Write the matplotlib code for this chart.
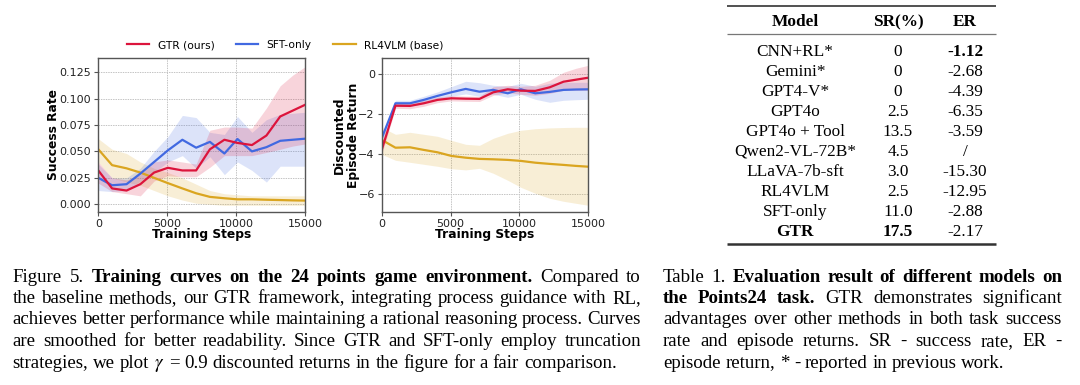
import matplotlib
matplotlib.use("Agg")
import matplotlib.pyplot as plt
import numpy as np

plt.rcParams['mathtext.fontset'] = 'stix'

# ---------------- data ----------------
steps = [0, 1000, 2050, 3050, 4050, 5050, 6100, 7100, 8100, 9150, 10100, 11150, 12200, 13200, 14100, 15000]

gtr_sr = [0.032, 0.015, 0.013, 0.019, 0.030, 0.0345, 0.032, 0.032, 0.052, 0.061, 0.058, 0.056, 0.065, 0.083, 0.0885, 0.094]
gtr_sr_lo = [0.020, 0.012, 0.010, 0.008, 0.022, 0.027, 0.026, 0.026, 0.035, 0.046, 0.046, 0.046, 0.049, 0.052, 0.055, 0.057]
gtr_sr_hi = [0.040, 0.025, 0.023, 0.028, 0.040, 0.042, 0.040, 0.038, 0.070, 0.073, 0.073, 0.072, 0.091, 0.112, 0.122, 0.130]

sft_sr = [0.025, 0.018, 0.019, 0.029, 0.040, 0.051, 0.061, 0.0535, 0.059, 0.048, 0.0617, 0.050, 0.054, 0.060, 0.061, 0.062]
sft_sr_lo = [0.013, 0.012, 0.013, 0.022, 0.030, 0.040, 0.046, 0.034, 0.045, 0.028, 0.040, 0.032, 0.021, 0.036, 0.036, 0.036]
sft_sr_hi = [0.038, 0.025, 0.025, 0.034, 0.050, 0.064, 0.084, 0.082, 0.068, 0.066, 0.083, 0.068, 0.080, 0.085, 0.086, 0.087]

rl_sr = [0.052, 0.037, 0.034, 0.030, 0.025, 0.020, 0.015, 0.0104, 0.007, 0.0057, 0.0047, 0.0047, 0.0043, 0.0040, 0.0037, 0.0035]
rl_sr_lo = [0.040, 0.025, 0.021, 0.018, 0.013, 0.008, 0.004, 0.001, 0.000, -0.001, -0.001, -0.001, -0.001, -0.001, -0.001, -0.001]
rl_sr_hi = [0.062, 0.052, 0.048, 0.040, 0.034, 0.030, 0.025, 0.019, 0.013, 0.010, 0.009, 0.008, 0.008, 0.008, 0.008, 0.008]

gtr_er = [-3.78, -1.57, -1.58, -1.45, -1.28, -1.20, -1.22, -1.23, -0.90, -0.75, -0.82, -0.83, -0.65, -0.37, -0.27, -0.17]
gtr_er_lo = [-4.00, -1.70, -1.72, -1.60, -1.42, -1.33, -1.35, -1.36, -1.05, -0.92, -1.00, -1.05, -0.95, -0.80, -0.80, -0.80]
gtr_er_hi = [-3.55, -1.45, -1.44, -1.30, -1.14, -1.07, -1.09, -1.10, -0.62, -0.55, -0.60, -0.55, -0.30, 0.10, 0.30, 0.45]

sft_er = [-3.20, -1.45, -1.45, -1.28, -1.08, -0.90, -0.73, -0.87, -0.78, -0.95, -0.75, -0.95, -0.88, -0.78, -0.76, -0.75]
sft_er_lo = [-3.40, -1.60, -1.60, -1.45, -1.25, -1.10, -0.98, -1.10, -1.00, -1.15, -1.00, -1.25, -1.40, -1.30, -1.27, -1.25]
sft_er_hi = [-3.00, -1.30, -1.30, -1.10, -0.88, -0.62, -0.35, -0.42, -0.55, -0.60, -0.45, -0.60, -0.45, -0.40, -0.40, -0.40]

rl_er = [-3.28, -3.67, -3.65, -3.78, -3.90, -4.08, -4.17, -4.23, -4.25, -4.28, -4.33, -4.42, -4.48, -4.53, -4.58, -4.62]
rl_er_lo = [-4.00, -4.30, -4.40, -4.50, -4.60, -4.72, -4.78, -4.70, -4.95, -5.30, -5.65, -5.95, -6.20, -6.35, -6.45, -6.55]
rl_er_hi = [-2.65, -3.00, -2.90, -3.00, -3.10, -3.30, -3.50, -3.55, -3.20, -2.95, -2.80, -2.72, -2.68, -2.66, -2.65, -2.65]

series_names = ["GTR (ours)", "SFT-only", "RL4VLM (base)"]
series_colors = ["#DC143C", "#4169E1", "#DAA520"]

x_ticks = [0, 5000, 10000, 15000]
sr_ticks = [0.000, 0.025, 0.050, 0.075, 0.100, 0.125]
er_ticks = [-6, -4, -2, 0]

table_cols = ["Model", "SR(%)", "ER"]
table_models = ["CNN+RL*", "Gemini*", "GPT4-V*", "GPT4o", "GPT4o + Tool", "Qwen2-VL-72B*",
                "LLaVA-7b-sft", "RL4VLM", "SFT-only", "GTR"]
table_sr = ["0", "0", "0", "2.5", "13.5", "4.5", "3.0", "2.5", "11.0", "17.5"]
table_er = ["-1.12", "-2.68", "-4.39", "-6.35", "-3.59", "/", "-15.30", "-12.95", "-2.88", "-2.17"]

# ---------------- figure ----------------
W, H = 1080, 385
fig = plt.figure(figsize=(W / 100, H / 100), dpi=100)

def px_axes(x0, y0, x1, y1):
    return fig.add_axes([x0 / W, 1 - y1 / H, (x1 - x0) / W, (y1 - y0) / H])

ax1 = px_axes(98.3, 58.3, 305, 211.7)
ax2 = px_axes(381.7, 58.3, 588.3, 211.7)

def style(ax):
    for s in ax.spines.values():
        s.set_color("#555555")
        s.set_linewidth(1.0)
    ax.grid(True, color="#c4c4c4", linestyle=(0, (1.5, 1)), linewidth=0.7)
    ax.set_axisbelow(True)
    ax.tick_params(labelsize=8, length=3, width=0.8, color="#555555", pad=2, labelcolor="#222222")
    ax.set_xlim(0, 15000)
    ax.set_xticks(x_ticks)

lines = []
for ax, data in [
    (ax1, [(gtr_sr, gtr_sr_lo, gtr_sr_hi), (sft_sr, sft_sr_lo, sft_sr_hi), (rl_sr, rl_sr_lo, rl_sr_hi)]),
    (ax2, [(gtr_er, gtr_er_lo, gtr_er_hi), (sft_er, sft_er_lo, sft_er_hi), (rl_er, rl_er_lo, rl_er_hi)]),
]:
    style(ax)
    order = [2, 1, 0]
    for i in order:
        m, lo, hi = data[i]
        ax.fill_between(steps, lo, hi, color=series_colors[i], alpha=0.18, linewidth=0)
    hs = []
    for i in order:
        m, lo, hi = data[i]
        h, = ax.plot(steps, m, color=series_colors[i], lw=1.6, label=series_names[i])
        hs.append(h)
    if ax is ax1:
        lines = hs[::-1]

ax1.set_ylim(-0.007, 0.138)
ax1.set_yticks(sr_ticks)
ax1.set_yticklabels([f"{v:.3f}" for v in sr_ticks])
ax2.set_ylim(-6.87, 0.8)
ax2.set_yticks(er_ticks)

ax1.set_ylabel("Success Rate", fontsize=8.8, fontweight="bold")
ax1.yaxis.set_label_coords(-0.185, 0.5)
ax2.set_ylabel("Discounted\nEpisode Return", fontsize=8.8, fontweight="bold", linespacing=1.1)
ax2.yaxis.set_label_coords(-0.105, 0.5)
for ax in (ax1, ax2):
    ax.set_xlabel("Training Steps", fontsize=8.8, fontweight="bold")
    ax.xaxis.set_label_coords(0.5, -0.105)

fig.legend(handles=lines, labels=series_names, loc="center", ncol=3, frameon=False,
           bbox_to_anchor=(285 / W, 1 - 45 / H), fontsize=7.7, handlelength=2.1,
           handletextpad=0.8, columnspacing=2.0)

# ---------------- overlay (pixel coords) ----------------
ov = fig.add_axes([0, 0, 1, 1])
ov.set_xlim(0, W)
ov.set_ylim(H, 0)
ov.axis("off")
ov.patch.set_alpha(0)

SERIF = "Liberation Serif"
TS = 12.4
CS = 13.6

# table
ov.plot([727, 996], [6, 6], color="#333333", lw=1.2, solid_capstyle="butt")
ov.plot([727, 996], [34.3, 34.3], color="#777777", lw=0.9, solid_capstyle="butt")
ov.plot([727, 996], [244.3, 244.3], color="#333333", lw=1.8, solid_capstyle="butt")
col_x = [795, 898, 965]
for cx, c in zip(col_x, table_cols):
    ov.text(cx, 26, c, ha="center", va="baseline", family=SERIF, fontsize=TS, fontweight="bold")
for i, (m, s, e) in enumerate(zip(table_models, table_sr, table_er)):
    yb = 55.5 + 20 * i
    bold_row = (m == "GTR")
    ov.text(col_x[0], yb, m, ha="center", va="baseline", family=SERIF, fontsize=TS,
            fontweight="bold" if bold_row else "normal")
    ov.text(col_x[1], yb, s, ha="center", va="baseline", family=SERIF, fontsize=TS,
            fontweight="bold" if bold_row else "normal")
    ov.text(col_x[2], yb, e, ha="center", va="baseline", family=SERIF, fontsize=TS,
            fontweight="bold" if i == 0 else "normal")

# captions with justified text
renderer = fig.canvas.get_renderer()

def justified(lines_spec, x0, x1, y0, dy, size, last_left=True):
    n = len(lines_spec)
    for li, segs in enumerate(lines_spec):
        words = []
        for txt, wt in segs:
            for w in txt.split():
                words.append((w, wt))
        arts, widths = [], []
        y = y0 + li * dy
        for w, wt in words:
            t = ov.text(0, y, w, family=SERIF, fontsize=size, fontweight=wt, ha="left", va="baseline")
            bb = t.get_window_extent(renderer)
            arts.append(t)
            widths.append(bb.width)
        natural = size * 100 / 72 * 0.25
        if li == n - 1 and last_left:
            gap = natural
        else:
            gap = (x1 - x0 - sum(widths)) / max(len(words) - 1, 1)
        x = x0
        for t, wd in zip(arts, widths):
            t.set_x(x)
            x += wd + gap

fig_cap = [
    [("Figure 5.", "normal"), ("Training curves on the 24 points game environment.", "bold"), ("Compared to", "normal")],
    [("the baseline methods, our GTR framework, integrating process guidance with RL,", "normal")],
    [("achieves better performance while maintaining a rational reasoning process. Curves", "normal")],
    [("are smoothed for better readability. Since GTR and SFT-only employ truncation", "normal")],
    [("strategies, we plot", "normal"), (r"$\gamma$ = 0.9", "normal"), ("discounted returns in the figure for a fair comparison.", "normal")],
]
tab_cap = [
    [("Table 1.", "normal"), ("Evaluation result of different models on", "bold")],
    [("the Points24 task.", "bold"), ("GTR demonstrates significant", "normal")],
    [("advantages over other methods in both task success", "normal")],
    [("rate and episode returns. SR - success rate, ER -", "normal")],
    [("episode return, * - reported in previous work.", "normal")],
]
justified(fig_cap, 12.7, 641, 281.5, 21.5, CS)
justified(tab_cap, 663, 1062, 281.5, 21.5, CS)

fig.savefig("out.png", dpi=100)
